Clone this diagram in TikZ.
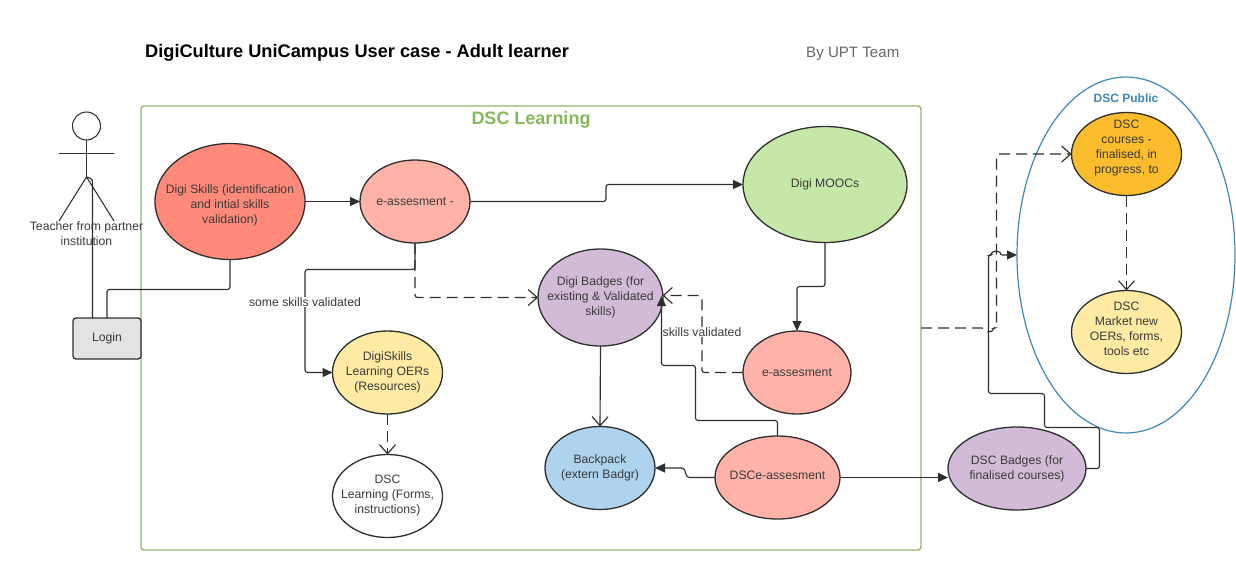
\documentclass[tikz,border=0pt]{standalone}
\usepackage{fontspec}
\setmainfont{Liberation Sans}
\usetikzlibrary{arrows.meta,shapes.geometric,calc}
\definecolor{ink}{HTML}{3A3A3A}
\definecolor{linec}{HTML}{2E2E2E}
\definecolor{greenb}{HTML}{8DB766}
\definecolor{greent}{HTML}{86B85C}
\definecolor{blueb}{HTML}{3F88B4}
\tikzset{
  bub/.style={ellipse,draw=linec,line width=1.3pt,inner sep=-40pt,outer sep=0pt,text=ink,align=center,
    font=\fontsize{12.2}{15}\selectfont},
  conn/.style={draw=linec,line width=1.15pt,rounded corners=2.5pt},
  solidarrow/.style={conn,-{Triangle[length=10pt,width=9pt]}},
  openarrow/.style={conn,-{Straight Barb[length=9pt,width=16pt,line width=1.15pt]}},
  dashline/.style={dash pattern=on 11pt off 6pt},
  lab/.style={text=ink,font=\fontsize{12.2}{15}\selectfont,align=center,inner sep=1pt},
  stick/.style={draw=linec,line width=1.05pt}
}
\begin{document}
\begin{tikzpicture}[x=1pt,y=-1pt]
\useasboundingbox (0,0) rectangle (1236,573);
\node[lab,anchor=west,font=\fontsize{18.2}{20}\selectfont\bfseries,text=black,inner sep=0pt] (title) at (145,53) {DigiCulture UniCampus User case - Adult learner};
\node[lab,anchor=west,font=\fontsize{15.1}{18}\selectfont,text=black!60,inner sep=0pt] (by) at (806,54) {By UPT Team};
% containers
\node[draw=greenb,line width=1.3pt,rounded corners=3pt,minimum width=780pt,minimum height=444pt,inner sep=0pt,outer sep=0pt] (learn) at (531,328) {};
\node[lab,font=\fontsize{18}{20}\selectfont\bfseries,text=greent] (learnt) at (531,120) {DSC Learning};
\node[ellipse,draw=blueb,line width=1.2pt,minimum width=218pt,minimum height=356pt,inner sep=-40pt,outer sep=0pt] (pub) at (1126,255) {};
\node[lab,font=\fontsize{12}{14}\selectfont\bfseries,text=blueb] (pubt) at (1126,98) {DSC Public};
% actor
\node[circle,stick,minimum size=28pt,inner sep=0pt,outer sep=0pt] (head) at (86.5,126) {};
\coordinate (hip) at (86.5,177);
\coordinate (armL) at (59,153.5);
\coordinate (armR) at (114,153.5);
\coordinate (legL) at (59,221);
\coordinate (legR) at (114,221);
\draw[stick] (head.south) -- (hip);
\draw[stick] (armL) -- (armR);
\draw[stick] (legL) -- (hip) -- (legR);
\node[lab] (actor) at (86.5,234) {Teacher from partner\\institution};
% nodes
\node[draw=linec,line width=1.3pt,fill=black!11,rounded corners=3pt,minimum width=68pt,minimum height=41pt,inner sep=0pt,outer sep=0pt,text=ink,font=\fontsize{12.2}{15}\selectfont] (login) at (107,338.5) {Login};
\node[bub,fill={rgb,255:red,255;green,138;blue,122},minimum width=150pt,minimum height=116pt] (skills) at (230,201.5) {~\\[1pt]Digi Skills (identification\\and intial skills\\validation)};
\node[bub,fill={rgb,255:red,255;green,179;blue,168},minimum width=110pt,minimum height=83pt] (eone) at (415,201.5) {e-assesment -};
\node[bub,fill={rgb,255:red,197;green,232;blue,168},minimum width=164pt,minimum height=116pt] (moocs) at (825,184.5) {Digi MOOCs};
\node[bub,fill={rgb,255:red,209;green,187;blue,215},minimum width=125pt,minimum height=97pt] (badges) at (600.5,297.5) {Digi Badges (for\\existing \& Validated\\skills)};
\node[bub,fill={rgb,255:red,255;green,179;blue,168},minimum width=108pt,minimum height=83pt] (etwo) at (797,372.5) {e-assesment};
\node[bub,fill={rgb,255:red,255;green,235;blue,163},minimum width=110pt,minimum height=83pt] (oers) at (387.5,372.5) {DigiSkills\\Learning OERs\\(Resources)};
\node[bub,fill=white,minimum width=110pt,minimum height=83pt] (forms) at (387.5,496) {DSC\\Learning (Forms,\\instructions)\\[-12pt]~};
\node[bub,fill={rgb,255:red,174;green,211;blue,239},minimum width=110pt,minimum height=83pt] (pack) at (600,468) {Backpack\\(extern Badgr)};
\node[bub,fill={rgb,255:red,255;green,179;blue,168},minimum width=125pt,minimum height=83pt] (dsce) at (777.5,477.5) {DSCe-assesment\\[-11pt]~};
\node[bub,fill={rgb,255:red,209;green,187;blue,215},minimum width=138pt,minimum height=83pt] (dscb) at (1017,468.5) {DSC Badges (for\\finalised courses)};
\node[bub,fill={rgb,255:red,251;green,188;blue,46},minimum width=110pt,minimum height=83pt] (courses) at (1126.5,154) {DSC\\courses -\\finalised, in\\progress, to\\~};
\node[bub,fill={rgb,255:red,255;green,235;blue,163},minimum width=110pt,minimum height=83pt] (market) at (1126.5,332) {DSC\\Market new\\OERs, forms,\\tools etc\\[-9pt]~};
% connectors
\draw[conn] (skills.south) -- (230,289.5) -- (107,289.5) -- (login.north);
\draw[conn] (92.5,318) -- (92.5,179) -- (hip);
\draw[solidarrow] (skills.east) -- (eone.west);
\draw[solidarrow] (eone.east) -- (606,201.5) -- (606,184.5) -- (moocs.west);
\draw[solidarrow] (eone.south) -- (415,269.5) -- (305,269.5) -- (305,372.5) -- (oers.west);
\node[lab,fill=white] (somev) at (305,302) {some skills validated};
\draw[openarrow,dashline] (eone.south) -- (415,297.5) -- (badges.west);
\draw[solidarrow] (moocs.south) -- (825,286.5) -- (797,286.5) -- (etwo.north);
\draw[openarrow,dashline] (etwo.west) -- (702,372.5) -- (702,295.5) -- (662.5,295.5);
\node[lab,fill=white] (skv) at (702,332) {skills validated};
\draw[openarrow] (badges.south) -- (pack.north);
\draw[openarrow,dashline] (oers.south) -- (forms.north);
\draw[solidarrow] (dsce.north) -- (777.5,420.5) -- (695.5,420.5) -- (695.5,365.5) -- (661.5,365.5) -- (661.5,296);
\draw[solidarrow] (dsce.west) -- (687,477.5) -- (684,468) -- (pack.east);
\draw[solidarrow] (dsce.east) -- (dscb.west |- dsce.east);
\draw[openarrow,dashline] (courses.south) -- (market.north);
\draw[conn,-{Triangle[length=10pt,width=9pt]}] (dscb.east) -- (1099.5,468.5) -- (1099.5,427.5) -- (1044.5,427.5) -- (1044.5,393.5) -- (988.5,393.5) -- (988.5,255) -- (992,255) arc[start angle=180,end angle=0,radius=4pt] -- (pub.west);
\draw[openarrow,dashline] (learn.east) -- (984.5,328) arc[start angle=180,end angle=360,radius=4pt] -- (996.5,328) -- (996.5,154) -- (courses.west);
\end{tikzpicture}
\end{document}
